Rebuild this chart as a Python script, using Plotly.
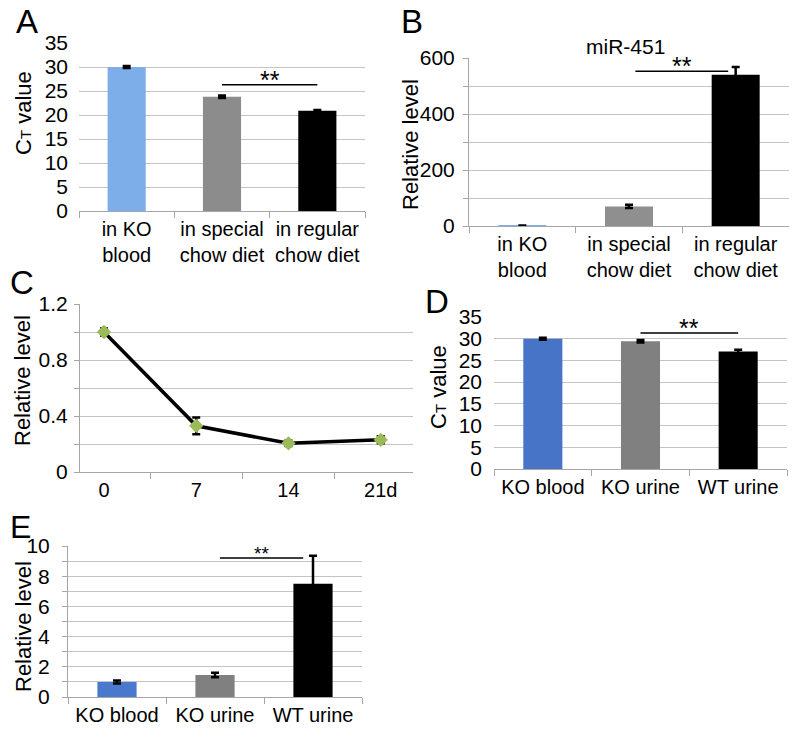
import plotly.graph_objects as go

W, H = 800, 742

# ---------------- data ----------------
a_cats = ["in KO<br>blood", "in special<br>chow diet", "in regular<br>chow diet"]
a_vals = [30.0, 23.8, 20.9]
a_err = [0.2, 0.25, 0.15]

b_cats = ["in KO<br>blood", "in special<br>chow diet", "in regular<br>chow diet"]
b_vals = [1.5, 70, 540]
b_err = [0.5, 6, 28]
b_title = "miR-451"

c_days = ["0", "7", "14", "21d"]
c_vals = [1.0, 0.33, 0.205, 0.23]
c_err = [0.025, 0.06, 0.02, 0.025]

d_cats = ["KO blood", "KO urine", "WT urine"]
d_vals = [30.0, 29.4, 27.05]
d_err = [0.25, 0.3, 0.4]

e_cats = ["KO blood", "KO urine", "WT urine"]
e_vals = [1.0, 1.45, 7.5]
e_err = [0.1, 0.15, 1.85]

# significance bars: (x0, x1, y) in category index / data units
a_sig = (1.0, 2.0, 26.3)
b_sig = (1.06, 1.93, 553)
d_sig = (1.0, 2.0, 31.3)
e_sig = (1.05, 1.9, 9.2)

# ---------------- styles ----------------
FONT = "Liberation Sans, Arial, sans-serif"
GRID = "#c4c4c4"
AXIS = "#a6a6a6"
a_colors = ["#7eaeea", "#8c8c8c", "#000000"]
b_colors = ["#7eaeea", "#8f8f8f", "#000000"]
d_colors = ["#4874c8", "#808080", "#000000"]
e_colors = ["#4a78cc", "#808080", "#000000"]


def dx(p0, p1):
    return [p0 / W, p1 / W]


def dy(top, bot):
    return [1 - bot / H, 1 - top / H]


fig = go.Figure()

err_style = dict(type="data", color="black", thickness=2.5, width=4)

fig.add_trace(go.Bar(x=a_cats, y=a_vals, marker=dict(color=a_colors, line=dict(width=0)),
                     width=0.4, error_y=dict(array=a_err, **err_style), xaxis="x", yaxis="y"))
fig.add_trace(go.Bar(x=b_cats, y=b_vals, marker=dict(color=b_colors, line=dict(width=0)),
                     width=0.45, error_y=dict(array=b_err, **err_style), xaxis="x2", yaxis="y2"))
fig.add_trace(go.Scatter(x=c_days, y=c_vals, mode="lines+markers",
                         line=dict(color="black", width=3.5),
                         marker=dict(symbol="diamond", size=11, color="#9bbb59"),
                         error_y=dict(array=c_err, **err_style), xaxis="x3", yaxis="y3"))
fig.add_trace(go.Bar(x=d_cats, y=d_vals, marker=dict(color=d_colors, line=dict(width=0)),
                     width=0.4, error_y=dict(array=d_err, **err_style), xaxis="x4", yaxis="y4"))
fig.add_trace(go.Bar(x=e_cats, y=e_vals, marker=dict(color=e_colors, line=dict(width=0)),
                     width=0.4, error_y=dict(array=e_err, **err_style), xaxis="x5", yaxis="y5"))

xtickfont = dict(family=FONT, size=20, color="black")
ytickfont = dict(family=FONT, size=21, color="black")


def xax(domain, anchor, rng=None):
    d = dict(domain=domain, anchor=anchor, type="category", showline=True, linecolor=AXIS,
             linewidth=1, ticks="outside", tickson="boundaries", ticklen=6, tickcolor=AXIS,
             showgrid=False, tickfont=xtickfont, automargin=False)
    if rng is not None:
        d["range"] = rng
    return d


def yax(domain, anchor, rng, dtick, minor=None, line=False, standoff=10):
    d = dict(domain=domain, anchor=anchor, range=rng, dtick=dtick, showgrid=True,
             gridcolor=GRID, gridwidth=1, zeroline=False, tickfont=ytickfont,
             showline=line, linecolor=AXIS, linewidth=1, ticklabelstandoff=standoff,
             automargin=False)
    if line:
        d.update(ticks="outside", ticklen=5, tickcolor=AXIS)
    if minor is not None:
        m = dict(dtick=minor, showgrid=True, gridcolor=GRID, gridwidth=1)
        if line:
            m.update(ticks="outside", ticklen=5, tickcolor=AXIS)
        d["minor"] = m
    return d


fig.update_layout(
    template="none",
    width=W, height=H, margin=dict(l=0, r=0, t=0, b=0, autoexpand=False),
    paper_bgcolor="white", plot_bgcolor="white", showlegend=False,
    font=dict(family=FONT, color="black"),
    xaxis=xax(dx(79, 365), "y"),
    yaxis=yax(dy(43, 211), "x", [0, 35], 5, standoff=10),
    xaxis2=xax(dx(469, 789), "y2"),
    yaxis2=yax(dy(58, 226), "x2", [0, 600], 200, minor=100, line=True, standoff=4),
    xaxis3=xax(dx(80, 413), "y3", rng=[-0.26, 3.35]),
    yaxis3=yax(dy(304, 472), "x3", [0, 1.2], 0.4, minor=0.2, line=True, standoff=2),
    xaxis4=xax(dx(494, 787), "y4"),
    yaxis4=yax(dy(317, 469), "x4", [0, 35], 5, standoff=11),
    xaxis5=xax(dx(68, 362), "y5"),
    yaxis5=yax(dy(546, 697), "x5", [0, 10], 2, minor=1, line=True, standoff=8),
)

ann = []


def paper_text(text, px, py, size, angle=0):
    ann.append(dict(text=text, x=px / W, y=1 - py / H, xref="paper", yref="paper",
                    showarrow=False, xanchor="center", yanchor="middle", textangle=angle,
                    font=dict(family=FONT, size=size, color="black")))


# panel letters
for letter, px, py in [("A", 27, 22), ("B", 412, 22), ("C", 22, 283), ("D", 437, 301), ("E", 20, 527)]:
    paper_text(letter, px, py, 33 if letter != "E" else 32)

# axis titles
ct = "C<span style='font-size:15px'>T</span> value"
paper_text(ct, 23, 113, 22, -90)
paper_text("Relative level", 410, 144, 22, -90)
paper_text("Relative level", 22, 381, 22, -90)
paper_text(ct, 438, 387, 22, -90)
paper_text("Relative level", 23, 627, 22, -90)
paper_text(b_title, 625, 47, 21)

shapes = []
for sig, xr, yr, fs in [(a_sig, "x", "y", 25), (b_sig, "x2", "y2", 25),
                        (d_sig, "x4", "y4", 25), (e_sig, "x5", "y5", 19)]:
    x0, x1, yv = sig
    shapes.append(dict(type="line", xref=xr, yref=yr, x0=x0, x1=x1, y0=yv, y1=yv,
                       line=dict(color="black", width=1.5)))
    ann.append(dict(text="**", x=(x0 + x1) / 2, y=yv, xref=xr, yref=yr, showarrow=False,
                    xanchor="center", yanchor="bottom", yshift=-int(fs * 0.45),
                    font=dict(family=FONT, size=fs, color="black")))

fig.update_layout(annotations=ann, shapes=shapes)

fig.write_html("out.html", config={"displayModeBar": False},
               post_script="document.body.style.margin='0px';document.body.style.padding='0px';")
